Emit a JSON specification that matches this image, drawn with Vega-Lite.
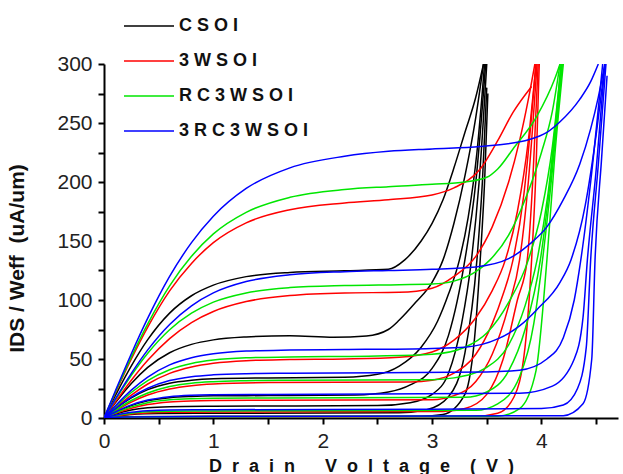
{
  "$schema": "https://vega.github.io/schema/vega-lite/v6.json",
  "autosize": {"type": "none"},
  "padding": {"left": 104, "top": 64, "right": 5, "bottom": 56},
  "width": 514,
  "height": 354,
  "background": "white",
  "config": {
    "view": {"stroke": null},
    "font": "Liberation Sans",
    "axis": {"domainColor": "#000", "domainWidth": 2, "tickColor": "#000", "tickWidth": 2, "tickSize": 6, "labelFont": "Liberation Sans", "labelFontSize": 21, "labelColor": "#222", "titleFont": "Liberation Sans", "titleFontWeight": "bold", "titleColor": "#111", "grid": false}
  },
  "data": {"values": [
    {"d":"CSOI","c":"k1","x":0,"y":0},{"d":"CSOI","c":"k1","x":0.1,"y":18.4},{"d":"CSOI","c":"k1","x":0.25,"y":44.2},{"d":"CSOI","c":"k1","x":0.4,"y":66.4},{"d":"CSOI","c":"k1","x":0.6,"y":88.9},{"d":"CSOI","c":"k1","x":0.8,"y":103.6},{"d":"CSOI","c":"k1","x":1.0,"y":112.6},{"d":"CSOI","c":"k1","x":1.3,"y":119.8},{"d":"CSOI","c":"k1","x":1.7,"y":123.4},{"d":"CSOI","c":"k1","x":2.2,"y":124.8},{"d":"CSOI","c":"k1","x":2.6,"y":126},{"d":"CSOI","c":"k1","x":2.75,"y":134},{"d":"CSOI","c":"k1","x":2.9,"y":150},{"d":"CSOI","c":"k1","x":3.0,"y":165},{"d":"CSOI","c":"k1","x":3.1,"y":185},{"d":"CSOI","c":"k1","x":3.2,"y":212},{"d":"CSOI","c":"k1","x":3.3,"y":242},{"d":"CSOI","c":"k1","x":3.4,"y":272},{"d":"CSOI","c":"k1","x":3.47,"y":300},
    {"d":"CSOI","c":"k2","x":0,"y":0},{"d":"CSOI","c":"k2","x":0.1,"y":12.4},{"d":"CSOI","c":"k2","x":0.25,"y":29.3},{"d":"CSOI","c":"k2","x":0.4,"y":42.9},{"d":"CSOI","c":"k2","x":0.6,"y":55.3},{"d":"CSOI","c":"k2","x":0.8,"y":62.4},{"d":"CSOI","c":"k2","x":1.0,"y":66.2},{"d":"CSOI","c":"k2","x":1.3,"y":68.7},{"d":"CSOI","c":"k2","x":1.7,"y":69.8},{"d":"CSOI","c":"k2","x":2.1,"y":68.5},{"d":"CSOI","c":"k2","x":2.4,"y":69.5},{"d":"CSOI","c":"k2","x":2.6,"y":75},{"d":"CSOI","c":"k2","x":2.7,"y":83},{"d":"CSOI","c":"k2","x":2.85,"y":98},{"d":"CSOI","c":"k2","x":3.0,"y":115},{"d":"CSOI","c":"k2","x":3.1,"y":134},{"d":"CSOI","c":"k2","x":3.2,"y":165},{"d":"CSOI","c":"k2","x":3.3,"y":205},{"d":"CSOI","c":"k2","x":3.4,"y":255},{"d":"CSOI","c":"k2","x":3.47,"y":300},
    {"d":"CSOI","c":"k3","x":0,"y":0},{"d":"CSOI","c":"k3","x":0.1,"y":7.4},{"d":"CSOI","c":"k3","x":0.25,"y":17},{"d":"CSOI","c":"k3","x":0.4,"y":24},{"d":"CSOI","c":"k3","x":0.6,"y":29.5},{"d":"CSOI","c":"k3","x":0.8,"y":32},{"d":"CSOI","c":"k3","x":1.0,"y":33.2},{"d":"CSOI","c":"k3","x":1.5,"y":34},{"d":"CSOI","c":"k3","x":2.2,"y":34.5},{"d":"CSOI","c":"k3","x":2.5,"y":37},{"d":"CSOI","c":"k3","x":2.7,"y":44},{"d":"CSOI","c":"k3","x":2.9,"y":60},{"d":"CSOI","c":"k3","x":3.05,"y":82},{"d":"CSOI","c":"k3","x":3.15,"y":105},{"d":"CSOI","c":"k3","x":3.25,"y":134},{"d":"CSOI","c":"k3","x":3.33,"y":170},{"d":"CSOI","c":"k3","x":3.41,"y":225},{"d":"CSOI","c":"k3","x":3.48,"y":300},
    {"d":"CSOI","c":"k4","x":0,"y":0},{"d":"CSOI","c":"k4","x":0.1,"y":4.7},{"d":"CSOI","c":"k4","x":0.25,"y":10.5},{"d":"CSOI","c":"k4","x":0.4,"y":14.5},{"d":"CSOI","c":"k4","x":0.6,"y":17.2},{"d":"CSOI","c":"k4","x":0.8,"y":18.3},{"d":"CSOI","c":"k4","x":1.0,"y":18.8},{"d":"CSOI","c":"k4","x":1.5,"y":19},{"d":"CSOI","c":"k4","x":2.3,"y":19.5},{"d":"CSOI","c":"k4","x":2.6,"y":22},{"d":"CSOI","c":"k4","x":2.8,"y":28},{"d":"CSOI","c":"k4","x":3.0,"y":42},{"d":"CSOI","c":"k4","x":3.15,"y":70},{"d":"CSOI","c":"k4","x":3.3,"y":134},{"d":"CSOI","c":"k4","x":3.4,"y":200},{"d":"CSOI","c":"k4","x":3.49,"y":300},
    {"d":"CSOI","c":"k5","x":0,"y":0},{"d":"CSOI","c":"k5","x":0.1,"y":3.2},{"d":"CSOI","c":"k5","x":0.25,"y":6.8},{"d":"CSOI","c":"k5","x":0.4,"y":8.7},{"d":"CSOI","c":"k5","x":0.6,"y":9.6},{"d":"CSOI","c":"k5","x":1.0,"y":10},{"d":"CSOI","c":"k5","x":2.5,"y":10.5},{"d":"CSOI","c":"k5","x":2.8,"y":13},{"d":"CSOI","c":"k5","x":3.0,"y":20},{"d":"CSOI","c":"k5","x":3.15,"y":38},{"d":"CSOI","c":"k5","x":3.27,"y":80},{"d":"CSOI","c":"k5","x":3.36,"y":134},{"d":"CSOI","c":"k5","x":3.43,"y":200},{"d":"CSOI","c":"k5","x":3.5,"y":300},
    {"d":"CSOI","c":"k6","x":0,"y":0},{"d":"CSOI","c":"k6","x":0.1,"y":1.5},{"d":"CSOI","c":"k6","x":0.25,"y":3},{"d":"CSOI","c":"k6","x":0.5,"y":3.8},{"d":"CSOI","c":"k6","x":1.0,"y":4},{"d":"CSOI","c":"k6","x":2.7,"y":4.5},{"d":"CSOI","c":"k6","x":2.95,"y":7},{"d":"CSOI","c":"k6","x":3.15,"y":18},{"d":"CSOI","c":"k6","x":3.3,"y":55},{"d":"CSOI","c":"k6","x":3.41,"y":134},{"d":"CSOI","c":"k6","x":3.46,"y":200},{"d":"CSOI","c":"k6","x":3.5,"y":280},
    {"d":"CSOI","c":"k7","x":0,"y":0},{"d":"CSOI","c":"k7","x":0.2,"y":1},{"d":"CSOI","c":"k7","x":1.0,"y":1.5},{"d":"CSOI","c":"k7","x":2.9,"y":1.5},{"d":"CSOI","c":"k7","x":3.1,"y":3},{"d":"CSOI","c":"k7","x":3.3,"y":20},{"d":"CSOI","c":"k7","x":3.4,"y":80},{"d":"CSOI","c":"k7","x":3.44,"y":134},{"d":"CSOI","c":"k7","x":3.48,"y":200},{"d":"CSOI","c":"k7","x":3.51,"y":275},
    {"d":"3WSOI","c":"r1","x":0,"y":0},{"d":"3WSOI","c":"r1","x":0.1,"y":20.4},{"d":"3WSOI","c":"r1","x":0.25,"y":50},{"d":"3WSOI","c":"r1","x":0.4,"y":77},{"d":"3WSOI","c":"r1","x":0.6,"y":107.7},{"d":"3WSOI","c":"r1","x":0.8,"y":131},{"d":"3WSOI","c":"r1","x":1.0,"y":148.6},{"d":"3WSOI","c":"r1","x":1.3,"y":165.4},{"d":"3WSOI","c":"r1","x":1.7,"y":176.5},{"d":"3WSOI","c":"r1","x":2.2,"y":182.2},{"d":"3WSOI","c":"r1","x":2.6,"y":185},{"d":"3WSOI","c":"r1","x":3.0,"y":189},{"d":"3WSOI","c":"r1","x":3.2,"y":195},{"d":"3WSOI","c":"r1","x":3.44,"y":211},{"d":"3WSOI","c":"r1","x":3.6,"y":235},{"d":"3WSOI","c":"r1","x":3.74,"y":259},{"d":"3WSOI","c":"r1","x":3.91,"y":281},
    {"d":"3WSOI","c":"r2","x":0,"y":0},{"d":"3WSOI","c":"r2","x":0.1,"y":13.1},{"d":"3WSOI","c":"r2","x":0.25,"y":32},{"d":"3WSOI","c":"r2","x":0.4,"y":48.9},{"d":"3WSOI","c":"r2","x":0.6,"y":67.3},{"d":"3WSOI","c":"r2","x":0.8,"y":80.9},{"d":"3WSOI","c":"r2","x":1.0,"y":90.3},{"d":"3WSOI","c":"r2","x":1.3,"y":98.7},{"d":"3WSOI","c":"r2","x":1.7,"y":103.8},{"d":"3WSOI","c":"r2","x":2.2,"y":106},{"d":"3WSOI","c":"r2","x":2.7,"y":106.5},{"d":"3WSOI","c":"r2","x":3.0,"y":110},{"d":"3WSOI","c":"r2","x":3.2,"y":120},{"d":"3WSOI","c":"r2","x":3.4,"y":137},{"d":"3WSOI","c":"r2","x":3.55,"y":162},{"d":"3WSOI","c":"r2","x":3.7,"y":200},{"d":"3WSOI","c":"r2","x":3.8,"y":235},{"d":"3WSOI","c":"r2","x":3.88,"y":270},{"d":"3WSOI","c":"r2","x":3.94,"y":300},
    {"d":"3WSOI","c":"r3","x":0,"y":0},{"d":"3WSOI","c":"r3","x":0.1,"y":8.1},{"d":"3WSOI","c":"r3","x":0.25,"y":19.4},{"d":"3WSOI","c":"r3","x":0.4,"y":28.8},{"d":"3WSOI","c":"r3","x":0.6,"y":37.8},{"d":"3WSOI","c":"r3","x":0.8,"y":43.2},{"d":"3WSOI","c":"r3","x":1.0,"y":46.4},{"d":"3WSOI","c":"r3","x":1.3,"y":48.6},{"d":"3WSOI","c":"r3","x":1.7,"y":49.5},{"d":"3WSOI","c":"r3","x":2.2,"y":50},{"d":"3WSOI","c":"r3","x":2.7,"y":51.5},{"d":"3WSOI","c":"r3","x":3.0,"y":56},{"d":"3WSOI","c":"r3","x":3.2,"y":66},{"d":"3WSOI","c":"r3","x":3.4,"y":85},{"d":"3WSOI","c":"r3","x":3.55,"y":108},{"d":"3WSOI","c":"r3","x":3.67,"y":134},{"d":"3WSOI","c":"r3","x":3.78,"y":175},{"d":"3WSOI","c":"r3","x":3.88,"y":235},{"d":"3WSOI","c":"r3","x":3.95,"y":300},
    {"d":"3WSOI","c":"r4","x":0,"y":0},{"d":"3WSOI","c":"r4","x":0.1,"y":5.7},{"d":"3WSOI","c":"r4","x":0.25,"y":13.5},{"d":"3WSOI","c":"r4","x":0.4,"y":19.5},{"d":"3WSOI","c":"r4","x":0.6,"y":24.6},{"d":"3WSOI","c":"r4","x":0.8,"y":27.4},{"d":"3WSOI","c":"r4","x":1.0,"y":28.8},{"d":"3WSOI","c":"r4","x":1.5,"y":30},{"d":"3WSOI","c":"r4","x":2.8,"y":30.5},{"d":"3WSOI","c":"r4","x":3.0,"y":32},{"d":"3WSOI","c":"r4","x":3.2,"y":38},{"d":"3WSOI","c":"r4","x":3.4,"y":54},{"d":"3WSOI","c":"r4","x":3.55,"y":80},{"d":"3WSOI","c":"r4","x":3.65,"y":105},{"d":"3WSOI","c":"r4","x":3.74,"y":134},{"d":"3WSOI","c":"r4","x":3.84,"y":190},{"d":"3WSOI","c":"r4","x":3.95,"y":300},
    {"d":"3WSOI","c":"r5","x":0,"y":0},{"d":"3WSOI","c":"r5","x":0.1,"y":3.7},{"d":"3WSOI","c":"r5","x":0.25,"y":8.3},{"d":"3WSOI","c":"r5","x":0.4,"y":11.4},{"d":"3WSOI","c":"r5","x":0.6,"y":13.6},{"d":"3WSOI","c":"r5","x":0.8,"y":14.5},{"d":"3WSOI","c":"r5","x":1.0,"y":14.8},{"d":"3WSOI","c":"r5","x":1.5,"y":15},{"d":"3WSOI","c":"r5","x":3.0,"y":15.5},{"d":"3WSOI","c":"r5","x":3.2,"y":19},{"d":"3WSOI","c":"r5","x":3.4,"y":31},{"d":"3WSOI","c":"r5","x":3.55,"y":54},{"d":"3WSOI","c":"r5","x":3.7,"y":95},{"d":"3WSOI","c":"r5","x":3.8,"y":134},{"d":"3WSOI","c":"r5","x":3.88,"y":200},{"d":"3WSOI","c":"r5","x":3.96,"y":300},
    {"d":"3WSOI","c":"r6","x":0,"y":0},{"d":"3WSOI","c":"r6","x":0.1,"y":1.6},{"d":"3WSOI","c":"r6","x":0.25,"y":3.4},{"d":"3WSOI","c":"r6","x":0.4,"y":4.3},{"d":"3WSOI","c":"r6","x":0.6,"y":4.8},{"d":"3WSOI","c":"r6","x":1.0,"y":5},{"d":"3WSOI","c":"r6","x":3.1,"y":5.5},{"d":"3WSOI","c":"r6","x":3.3,"y":8},{"d":"3WSOI","c":"r6","x":3.5,"y":20},{"d":"3WSOI","c":"r6","x":3.65,"y":50},{"d":"3WSOI","c":"r6","x":3.78,"y":100},{"d":"3WSOI","c":"r6","x":3.87,"y":134},{"d":"3WSOI","c":"r6","x":3.92,"y":200},{"d":"3WSOI","c":"r6","x":3.97,"y":300},
    {"d":"3WSOI","c":"r7","x":0,"y":0},{"d":"3WSOI","c":"r7","x":0.2,"y":0.8},{"d":"3WSOI","c":"r7","x":1.0,"y":1},{"d":"3WSOI","c":"r7","x":3.4,"y":1.5},{"d":"3WSOI","c":"r7","x":3.6,"y":4},{"d":"3WSOI","c":"r7","x":3.75,"y":18},{"d":"3WSOI","c":"r7","x":3.85,"y":60},{"d":"3WSOI","c":"r7","x":3.91,"y":134},{"d":"3WSOI","c":"r7","x":3.95,"y":210},{"d":"3WSOI","c":"r7","x":3.98,"y":300},
    {"d":"RC3WSOI","c":"g1","x":0,"y":0},{"d":"RC3WSOI","c":"g1","x":0.1,"y":21.1},{"d":"RC3WSOI","c":"g1","x":0.25,"y":51.8},{"d":"RC3WSOI","c":"g1","x":0.4,"y":79.8},{"d":"RC3WSOI","c":"g1","x":0.6,"y":112},{"d":"RC3WSOI","c":"g1","x":0.8,"y":137},{"d":"RC3WSOI","c":"g1","x":1.0,"y":156},{"d":"RC3WSOI","c":"g1","x":1.3,"y":174.3},{"d":"RC3WSOI","c":"g1","x":1.7,"y":187},{"d":"RC3WSOI","c":"g1","x":2.2,"y":193.6},{"d":"RC3WSOI","c":"g1","x":2.6,"y":196},{"d":"RC3WSOI","c":"g1","x":3.0,"y":198},{"d":"RC3WSOI","c":"g1","x":3.3,"y":200},{"d":"RC3WSOI","c":"g1","x":3.5,"y":204},{"d":"RC3WSOI","c":"g1","x":3.6,"y":211},{"d":"RC3WSOI","c":"g1","x":3.74,"y":228},{"d":"RC3WSOI","c":"g1","x":3.96,"y":256},{"d":"RC3WSOI","c":"g1","x":4.12,"y":287},{"d":"RC3WSOI","c":"g1","x":4.17,"y":300},
    {"d":"RC3WSOI","c":"g2","x":0,"y":0},{"d":"RC3WSOI","c":"g2","x":0.1,"y":14.9},{"d":"RC3WSOI","c":"g2","x":0.25,"y":36.2},{"d":"RC3WSOI","c":"g2","x":0.4,"y":54.9},{"d":"RC3WSOI","c":"g2","x":0.6,"y":74.8},{"d":"RC3WSOI","c":"g2","x":0.8,"y":88.8},{"d":"RC3WSOI","c":"g2","x":1.0,"y":98.2},{"d":"RC3WSOI","c":"g2","x":1.3,"y":106},{"d":"RC3WSOI","c":"g2","x":1.7,"y":110.5},{"d":"RC3WSOI","c":"g2","x":2.2,"y":112.3},{"d":"RC3WSOI","c":"g2","x":2.7,"y":113},{"d":"RC3WSOI","c":"g2","x":3.0,"y":113.5},{"d":"RC3WSOI","c":"g2","x":3.2,"y":116},{"d":"RC3WSOI","c":"g2","x":3.4,"y":124},{"d":"RC3WSOI","c":"g2","x":3.53,"y":134},{"d":"RC3WSOI","c":"g2","x":3.7,"y":155},{"d":"RC3WSOI","c":"g2","x":3.85,"y":185},{"d":"RC3WSOI","c":"g2","x":4.0,"y":225},{"d":"RC3WSOI","c":"g2","x":4.1,"y":260},{"d":"RC3WSOI","c":"g2","x":4.17,"y":300},
    {"d":"RC3WSOI","c":"g3","x":0,"y":0},{"d":"RC3WSOI","c":"g3","x":0.1,"y":9.1},{"d":"RC3WSOI","c":"g3","x":0.25,"y":21.6},{"d":"RC3WSOI","c":"g3","x":0.4,"y":31.7},{"d":"RC3WSOI","c":"g3","x":0.6,"y":40.9},{"d":"RC3WSOI","c":"g3","x":0.8,"y":46.2},{"d":"RC3WSOI","c":"g3","x":1.0,"y":49.1},{"d":"RC3WSOI","c":"g3","x":1.3,"y":51},{"d":"RC3WSOI","c":"g3","x":1.7,"y":51.7},{"d":"RC3WSOI","c":"g3","x":2.5,"y":52.5},{"d":"RC3WSOI","c":"g3","x":3.0,"y":54},{"d":"RC3WSOI","c":"g3","x":3.3,"y":60},{"d":"RC3WSOI","c":"g3","x":3.5,"y":72},{"d":"RC3WSOI","c":"g3","x":3.7,"y":98},{"d":"RC3WSOI","c":"g3","x":3.88,"y":134},{"d":"RC3WSOI","c":"g3","x":4.0,"y":175},{"d":"RC3WSOI","c":"g3","x":4.1,"y":230},{"d":"RC3WSOI","c":"g3","x":4.18,"y":300},
    {"d":"RC3WSOI","c":"g4","x":0,"y":0},{"d":"RC3WSOI","c":"g4","x":0.1,"y":6.3},{"d":"RC3WSOI","c":"g4","x":0.25,"y":14.8},{"d":"RC3WSOI","c":"g4","x":0.4,"y":21.2},{"d":"RC3WSOI","c":"g4","x":0.6,"y":26.7},{"d":"RC3WSOI","c":"g4","x":0.8,"y":29.5},{"d":"RC3WSOI","c":"g4","x":1.0,"y":30.8},{"d":"RC3WSOI","c":"g4","x":1.3,"y":31.6},{"d":"RC3WSOI","c":"g4","x":1.7,"y":32},{"d":"RC3WSOI","c":"g4","x":3.0,"y":32.5},{"d":"RC3WSOI","c":"g4","x":3.2,"y":34},{"d":"RC3WSOI","c":"g4","x":3.5,"y":43},{"d":"RC3WSOI","c":"g4","x":3.7,"y":62},{"d":"RC3WSOI","c":"g4","x":3.85,"y":95},{"d":"RC3WSOI","c":"g4","x":3.96,"y":134},{"d":"RC3WSOI","c":"g4","x":4.06,"y":190},{"d":"RC3WSOI","c":"g4","x":4.18,"y":300},
    {"d":"RC3WSOI","c":"g5","x":0,"y":0},{"d":"RC3WSOI","c":"g5","x":0.1,"y":4.2},{"d":"RC3WSOI","c":"g5","x":0.25,"y":9.4},{"d":"RC3WSOI","c":"g5","x":0.4,"y":13},{"d":"RC3WSOI","c":"g5","x":0.6,"y":15.4},{"d":"RC3WSOI","c":"g5","x":0.8,"y":16.4},{"d":"RC3WSOI","c":"g5","x":1.0,"y":16.8},{"d":"RC3WSOI","c":"g5","x":1.5,"y":17},{"d":"RC3WSOI","c":"g5","x":3.3,"y":17.5},{"d":"RC3WSOI","c":"g5","x":3.5,"y":22},{"d":"RC3WSOI","c":"g5","x":3.7,"y":40},{"d":"RC3WSOI","c":"g5","x":3.85,"y":75},{"d":"RC3WSOI","c":"g5","x":3.99,"y":134},{"d":"RC3WSOI","c":"g5","x":4.08,"y":200},{"d":"RC3WSOI","c":"g5","x":4.19,"y":300},
    {"d":"RC3WSOI","c":"g6","x":0,"y":0},{"d":"RC3WSOI","c":"g6","x":0.1,"y":2},{"d":"RC3WSOI","c":"g6","x":0.25,"y":4.1},{"d":"RC3WSOI","c":"g6","x":0.4,"y":5.2},{"d":"RC3WSOI","c":"g6","x":0.6,"y":5.8},{"d":"RC3WSOI","c":"g6","x":1.0,"y":6},{"d":"RC3WSOI","c":"g6","x":3.4,"y":6.5},{"d":"RC3WSOI","c":"g6","x":3.6,"y":12},{"d":"RC3WSOI","c":"g6","x":3.8,"y":35},{"d":"RC3WSOI","c":"g6","x":3.93,"y":80},{"d":"RC3WSOI","c":"g6","x":4.01,"y":134},{"d":"RC3WSOI","c":"g6","x":4.1,"y":210},{"d":"RC3WSOI","c":"g6","x":4.19,"y":300},
    {"d":"RC3WSOI","c":"g7","x":0,"y":0},{"d":"RC3WSOI","c":"g7","x":0.2,"y":0.8},{"d":"RC3WSOI","c":"g7","x":1.0,"y":1},{"d":"RC3WSOI","c":"g7","x":3.6,"y":1.5},{"d":"RC3WSOI","c":"g7","x":3.8,"y":8},{"d":"RC3WSOI","c":"g7","x":3.95,"y":40},{"d":"RC3WSOI","c":"g7","x":4.05,"y":134},{"d":"RC3WSOI","c":"g7","x":4.12,"y":220},{"d":"RC3WSOI","c":"g7","x":4.2,"y":300},
    {"d":"3RC3WSOI","c":"b1","x":0,"y":0},{"d":"3RC3WSOI","c":"b1","x":0.1,"y":22.1},{"d":"3RC3WSOI","c":"b1","x":0.25,"y":54.5},{"d":"3RC3WSOI","c":"b1","x":0.4,"y":84.6},{"d":"3RC3WSOI","c":"b1","x":0.6,"y":120},{"d":"3RC3WSOI","c":"b1","x":0.8,"y":148.6},{"d":"3RC3WSOI","c":"b1","x":1.0,"y":171},{"d":"3RC3WSOI","c":"b1","x":1.3,"y":194.5},{"d":"3RC3WSOI","c":"b1","x":1.7,"y":212},{"d":"3RC3WSOI","c":"b1","x":2.2,"y":221.8},{"d":"3RC3WSOI","c":"b1","x":2.6,"y":226},{"d":"3RC3WSOI","c":"b1","x":3.0,"y":228},{"d":"3RC3WSOI","c":"b1","x":3.44,"y":230},{"d":"3RC3WSOI","c":"b1","x":3.89,"y":236},{"d":"3RC3WSOI","c":"b1","x":4.05,"y":242},{"d":"3RC3WSOI","c":"b1","x":4.17,"y":251},{"d":"3RC3WSOI","c":"b1","x":4.35,"y":270},{"d":"3RC3WSOI","c":"b1","x":4.45,"y":285},{"d":"3RC3WSOI","c":"b1","x":4.52,"y":300},
    {"d":"3RC3WSOI","c":"b2","x":0,"y":0},{"d":"3RC3WSOI","c":"b2","x":0.1,"y":15.5},{"d":"3RC3WSOI","c":"b2","x":0.25,"y":37.8},{"d":"3RC3WSOI","c":"b2","x":0.4,"y":57.7},{"d":"3RC3WSOI","c":"b2","x":0.6,"y":79.3},{"d":"3RC3WSOI","c":"b2","x":0.8,"y":95.1},{"d":"3RC3WSOI","c":"b2","x":1.0,"y":106},{"d":"3RC3WSOI","c":"b2","x":1.3,"y":115.6},{"d":"3RC3WSOI","c":"b2","x":1.7,"y":121.4},{"d":"3RC3WSOI","c":"b2","x":2.2,"y":124},{"d":"3RC3WSOI","c":"b2","x":2.6,"y":125},{"d":"3RC3WSOI","c":"b2","x":3.0,"y":126},{"d":"3RC3WSOI","c":"b2","x":3.4,"y":128},{"d":"3RC3WSOI","c":"b2","x":3.7,"y":135},{"d":"3RC3WSOI","c":"b2","x":3.9,"y":148},{"d":"3RC3WSOI","c":"b2","x":4.05,"y":162},{"d":"3RC3WSOI","c":"b2","x":4.2,"y":185},{"d":"3RC3WSOI","c":"b2","x":4.35,"y":215},{"d":"3RC3WSOI","c":"b2","x":4.45,"y":245},{"d":"3RC3WSOI","c":"b2","x":4.52,"y":272},{"d":"3RC3WSOI","c":"b2","x":4.58,"y":300},
    {"d":"3RC3WSOI","c":"b3","x":0,"y":0},{"d":"3RC3WSOI","c":"b3","x":0.1,"y":9.9},{"d":"3RC3WSOI","c":"b3","x":0.25,"y":23.6},{"d":"3RC3WSOI","c":"b3","x":0.4,"y":34.7},{"d":"3RC3WSOI","c":"b3","x":0.6,"y":45},{"d":"3RC3WSOI","c":"b3","x":0.8,"y":51.1},{"d":"3RC3WSOI","c":"b3","x":1.0,"y":54.4},{"d":"3RC3WSOI","c":"b3","x":1.3,"y":56.7},{"d":"3RC3WSOI","c":"b3","x":1.7,"y":57.6},{"d":"3RC3WSOI","c":"b3","x":2.2,"y":58},{"d":"3RC3WSOI","c":"b3","x":3.0,"y":59},{"d":"3RC3WSOI","c":"b3","x":3.3,"y":60},{"d":"3RC3WSOI","c":"b3","x":3.6,"y":67},{"d":"3RC3WSOI","c":"b3","x":3.8,"y":78},{"d":"3RC3WSOI","c":"b3","x":3.96,"y":92},{"d":"3RC3WSOI","c":"b3","x":4.17,"y":115},{"d":"3RC3WSOI","c":"b3","x":4.27,"y":134},{"d":"3RC3WSOI","c":"b3","x":4.4,"y":180},{"d":"3RC3WSOI","c":"b3","x":4.5,"y":240},{"d":"3RC3WSOI","c":"b3","x":4.58,"y":300},
    {"d":"3RC3WSOI","c":"b4","x":0,"y":0},{"d":"3RC3WSOI","c":"b4","x":0.1,"y":7.5},{"d":"3RC3WSOI","c":"b4","x":0.25,"y":17.6},{"d":"3RC3WSOI","c":"b4","x":0.4,"y":25.2},{"d":"3RC3WSOI","c":"b4","x":0.6,"y":31.7},{"d":"3RC3WSOI","c":"b4","x":0.8,"y":35},{"d":"3RC3WSOI","c":"b4","x":1.0,"y":36.6},{"d":"3RC3WSOI","c":"b4","x":1.3,"y":37.6},{"d":"3RC3WSOI","c":"b4","x":1.7,"y":38},{"d":"3RC3WSOI","c":"b4","x":3.5,"y":39},{"d":"3RC3WSOI","c":"b4","x":3.8,"y":40.5},{"d":"3RC3WSOI","c":"b4","x":4.05,"y":50},{"d":"3RC3WSOI","c":"b4","x":4.2,"y":68},{"d":"3RC3WSOI","c":"b4","x":4.3,"y":100},{"d":"3RC3WSOI","c":"b4","x":4.36,"y":134},{"d":"3RC3WSOI","c":"b4","x":4.45,"y":200},{"d":"3RC3WSOI","c":"b4","x":4.56,"y":300},
    {"d":"3RC3WSOI","c":"b5","x":0,"y":0},{"d":"3RC3WSOI","c":"b5","x":0.1,"y":4.9},{"d":"3RC3WSOI","c":"b5","x":0.25,"y":11.1},{"d":"3RC3WSOI","c":"b5","x":0.4,"y":15.2},{"d":"3RC3WSOI","c":"b5","x":0.6,"y":18.1},{"d":"3RC3WSOI","c":"b5","x":0.8,"y":19.3},{"d":"3RC3WSOI","c":"b5","x":1.0,"y":19.7},{"d":"3RC3WSOI","c":"b5","x":1.5,"y":20},{"d":"3RC3WSOI","c":"b5","x":3.8,"y":21},{"d":"3RC3WSOI","c":"b5","x":4.1,"y":27},{"d":"3RC3WSOI","c":"b5","x":4.3,"y":50},{"d":"3RC3WSOI","c":"b5","x":4.38,"y":85},{"d":"3RC3WSOI","c":"b5","x":4.42,"y":134},{"d":"3RC3WSOI","c":"b5","x":4.5,"y":210},{"d":"3RC3WSOI","c":"b5","x":4.58,"y":300},
    {"d":"3RC3WSOI","c":"b6","x":0,"y":0},{"d":"3RC3WSOI","c":"b6","x":0.1,"y":2.3},{"d":"3RC3WSOI","c":"b6","x":0.25,"y":4.8},{"d":"3RC3WSOI","c":"b6","x":0.4,"y":6.1},{"d":"3RC3WSOI","c":"b6","x":0.6,"y":6.8},{"d":"3RC3WSOI","c":"b6","x":1.0,"y":7},{"d":"3RC3WSOI","c":"b6","x":3.0,"y":7.5},{"d":"3RC3WSOI","c":"b6","x":4.0,"y":8},{"d":"3RC3WSOI","c":"b6","x":4.2,"y":11},{"d":"3RC3WSOI","c":"b6","x":4.33,"y":25},{"d":"3RC3WSOI","c":"b6","x":4.41,"y":60},{"d":"3RC3WSOI","c":"b6","x":4.45,"y":134},{"d":"3RC3WSOI","c":"b6","x":4.52,"y":215},{"d":"3RC3WSOI","c":"b6","x":4.59,"y":300},
    {"d":"3RC3WSOI","c":"b7","x":0,"y":0},{"d":"3RC3WSOI","c":"b7","x":0.2,"y":0.8},{"d":"3RC3WSOI","c":"b7","x":1.0,"y":1.2},{"d":"3RC3WSOI","c":"b7","x":4.2,"y":2},{"d":"3RC3WSOI","c":"b7","x":4.38,"y":12},{"d":"3RC3WSOI","c":"b7","x":4.46,"y":50},{"d":"3RC3WSOI","c":"b7","x":4.49,"y":134},{"d":"3RC3WSOI","c":"b7","x":4.55,"y":220},{"d":"3RC3WSOI","c":"b7","x":4.6,"y":290}
  ]},
  "mark": {"type": "line", "interpolate": "monotone", "strokeWidth": 1.5, "clip": true},
  "encoding": {
    "x": {"field": "x", "type": "quantitative", "scale": {"domain": [0, 4.7], "nice": false},
      "axis": {"values": [0, 0.5, 1, 1.5, 2, 2.5, 3, 3.5, 4, 4.5], "format": "~g", "labelExpr": "datum.value % 1 == 0 ? datum.label : ''", "labelPadding": 6, "labelFlush": false,
        "title": "D\u00a0\u00a0r\u00a0\u00a0a\u00a0\u00a0i\u00a0\u00a0n\u00a0\u00a0\u00a0\u00a0\u00a0\u00a0V\u00a0\u00a0o\u00a0\u00a0l\u00a0\u00a0t\u00a0\u00a0a\u00a0\u00a0g\u00a0\u00a0e\u00a0\u00a0\u00a0\u00a0(\u00a0\u00a0V\u00a0\u00a0)", "titleFontSize": 18, "titleY": 39}},
    "y": {"field": "y", "type": "quantitative", "scale": {"domain": [0, 300], "nice": false},
      "axis": {"values": [0, 25, 50, 75, 100, 125, 150, 175, 200, 225, 250, 275, 300], "labelExpr": "datum.value % 50 == 0 ? datum.label : ''", "labelPadding": 6, "labelFlush": false,
        "title": "IDS / Weff\u00a0\u00a0(uA/um)", "titleFontSize": 21, "titleX": -77, "titleY": 194}},
    "color": {"field": "d", "type": "nominal",
      "scale": {"domain": ["CSOI", "3WSOI", "RC3WSOI", "3RC3WSOI"], "range": ["#000000", "#ff0000", "#00e600", "#0000ff"]},
      "legend": {"title": null, "orient": "none", "legendX": 19, "legendY": -64, "symbolType": "stroke", "symbolSize": 2500, "symbolStrokeWidth": 1.5, "labelFont": "Liberation Sans", "labelFontSize": 18, "labelFontWeight": "bold", "labelColor": "#111", "labelOffset": 4, "rowPadding": -4, "labelExpr": "join(split(datum.label, ''), '\u00a0')"}},
    "detail": {"field": "c", "type": "nominal"}
  }
}
